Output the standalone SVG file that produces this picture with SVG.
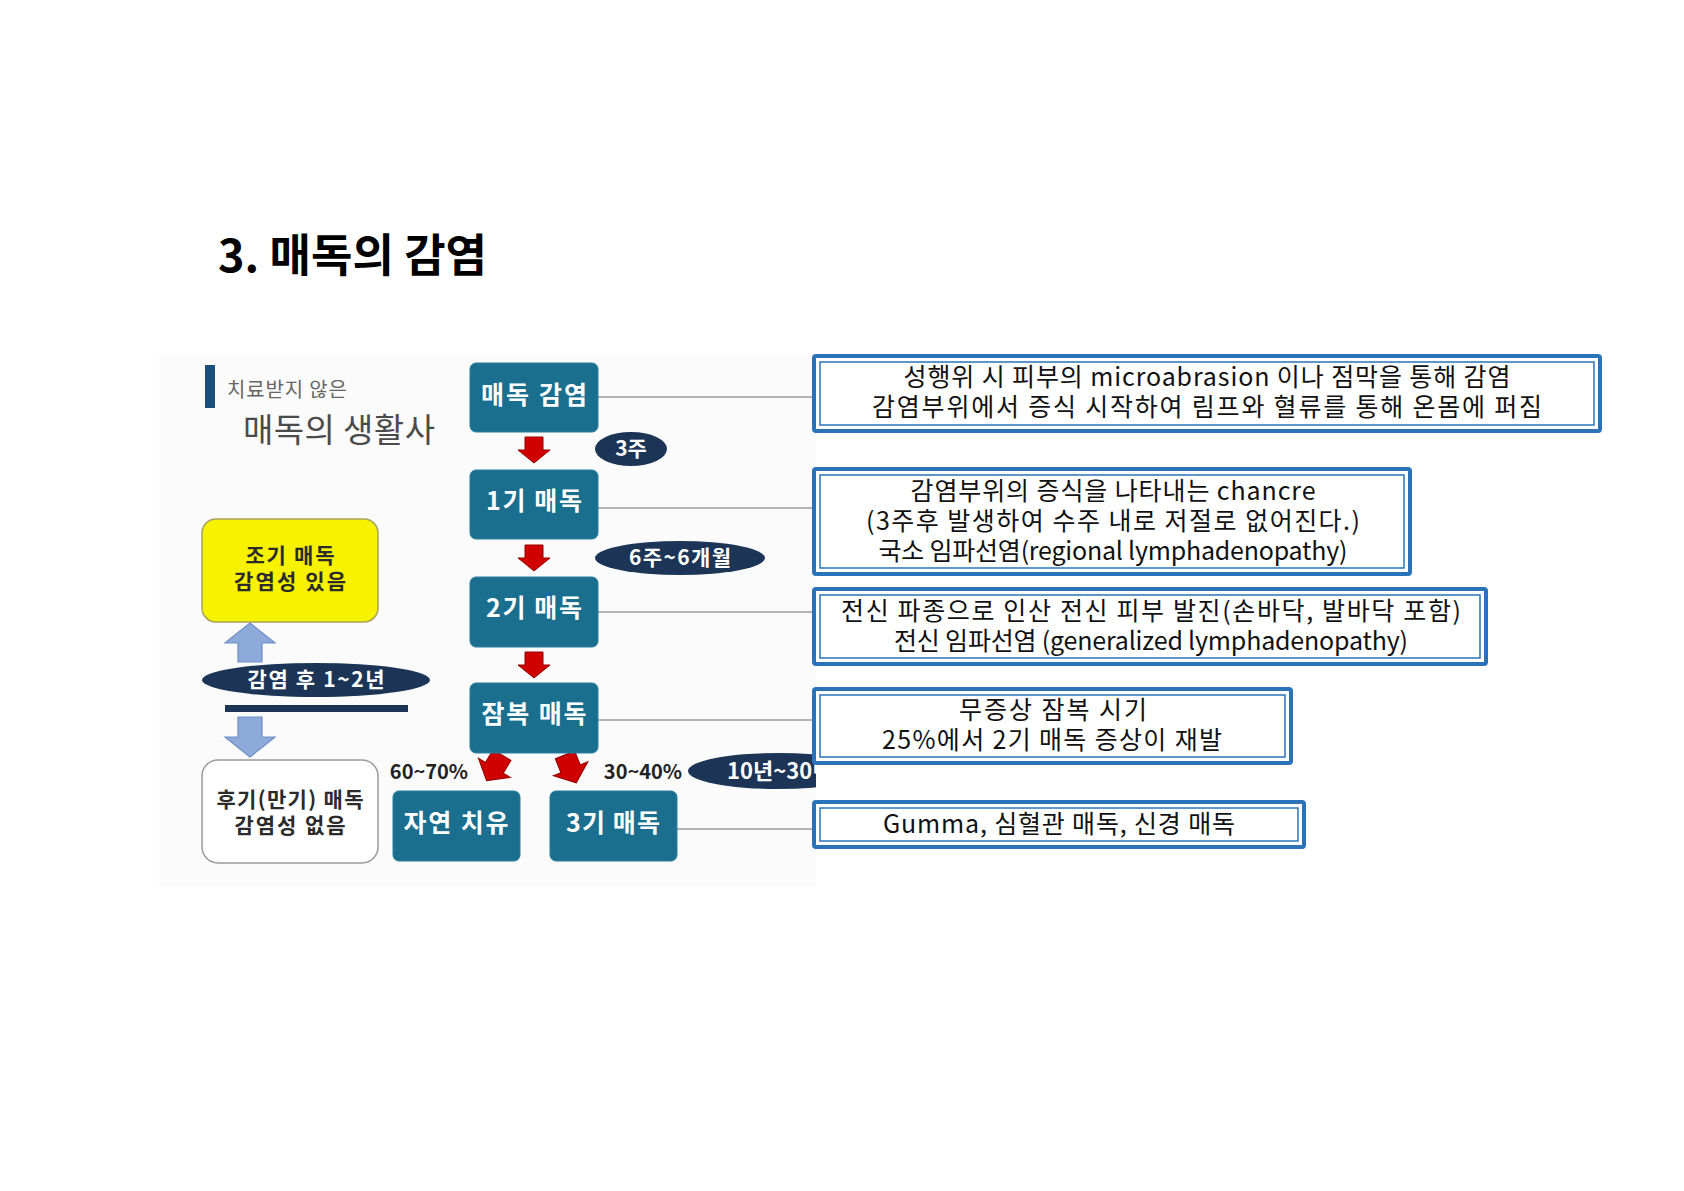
<svg xmlns="http://www.w3.org/2000/svg" width="1684" height="1191" viewBox="0 0 1684 1191">
<style>
text{font-family:"Noto Sans CJK KR","Noto Sans",sans-serif}
.title{font-size:45px;font-weight:700;fill:#000}
.teal{fill:#1a6e8e;stroke:#2a7f9f;stroke-width:1}
.tt{font-size:25px;font-weight:700;fill:#fff;text-anchor:middle}
.lbl{font-size:21px;font-weight:700;fill:#2b2b2b;text-anchor:middle}
.pill{fill:#1c3557}
.pt{font-size:21px;font-weight:700;fill:#fff;text-anchor:middle}
.pct{font-size:20px;font-weight:700;fill:#222;text-anchor:middle}
.desc{font-size:25px;fill:#111;text-anchor:middle}
.outer{fill:#fff;stroke:#2a73b9;stroke-width:4}
.inner{fill:none;stroke:#2a73b9;stroke-width:1.5}
.conn{stroke:#b3b3b3;stroke-width:2;fill:none}
.red{fill:#d00000;stroke:#9a0000;stroke-width:1}
.blue{fill:#8eaadb;stroke:#6d8fc5;stroke-width:1.2}
</style>
<defs>
<path id="rdown" d="M-9,0 h18 v13 h7 l-16,13 l-16,-13 h7 z"/>
<clipPath id="imgclip"><rect x="159" y="354" width="657" height="533"/></clipPath>
</defs>
<rect width="1684" height="1191" fill="#fff"/>
<text class="title" x="218" y="272" textLength="269" lengthAdjust="spacing">3. 매독의 감염</text>
<rect x="159" y="354" width="657" height="533" fill="#fbfbfb"/>

<g id="connectors">
<line class="conn" x1="598" y1="397" x2="814" y2="397"/>
<line class="conn" x1="598" y1="508" x2="814" y2="508"/>
<line class="conn" x1="598" y1="612" x2="814" y2="612"/>
<line class="conn" x1="598" y1="720" x2="814" y2="720"/>
<line class="conn" x1="677" y1="829" x2="814" y2="829"/>
<use href="#rdown" class="red" transform="translate(534,437)"/>
<use href="#rdown" class="red" transform="translate(534,545)"/>
<use href="#rdown" class="red" transform="translate(534,652)"/>
<use href="#rdown" class="red" transform="translate(502,755) rotate(31) scale(1.15)"/>
<use href="#rdown" class="red" transform="translate(565,755) rotate(-22) scale(1.15)"/>
<path class="blue" d="M250,623 L275,643 L262,643 L262,662 L238,662 L238,643 L225,643 Z"/>
<path class="blue" d="M238,717 L262,717 L262,737 L275,737 L250,757 L225,737 L238,737 Z"/>
<rect x="225" y="705" width="183" height="7" fill="#1c3557"/>
</g>

<g id="header">
<rect x="205" y="365" width="10" height="43" fill="#1b4f7c"/>
<text x="227" y="397" style="font-size:20px;fill:#666" textLength="120" lengthAdjust="spacing">치료받지 않은</text>
<text x="243" y="442" style="font-size:33px;fill:#4a4a4a" textLength="192" lengthAdjust="spacing">매독의 생활사</text>
</g>

<g id="early">
<rect x="202" y="519" width="176" height="103" rx="14" fill="#f7f200" stroke="#a9a35a" stroke-width="1.5"/>
<text class="lbl" x="290" y="563" textLength="89" lengthAdjust="spacing">조기 매독</text>
<text class="lbl" x="290" y="589" textLength="112" lengthAdjust="spacing">감염성 있음</text>
</g>
<g id="late">
<rect x="202" y="760" width="176" height="103" rx="16" fill="#fff" stroke="#9a9a9a" stroke-width="1.5"/>
<text class="lbl" x="290" y="807" textLength="147" lengthAdjust="spacing">후기(만기) 매독</text>
<text class="lbl" x="290" y="833" textLength="111" lengthAdjust="spacing">감염성 없음</text>
</g>
<g id="period12">
<ellipse class="pill" cx="316" cy="680" rx="114" ry="17"/>
<text class="pt" x="316" y="687" textLength="137" lengthAdjust="spacing">감염 후 1~2년</text>
</g>

<g id="n-infect"><rect class="teal" x="470" y="363" width="128" height="69" rx="6"/><text class="tt" x="534" y="404" textLength="106" lengthAdjust="spacing">매독 감염</text></g>
<g id="n-primary"><rect class="teal" x="470" y="470" width="128" height="69" rx="6"/><text class="tt" x="534" y="510" textLength="96" lengthAdjust="spacing">1기 매독</text></g>
<g id="n-secondary"><rect class="teal" x="470" y="577" width="128" height="70" rx="6"/><text class="tt" x="534" y="617" textLength="96" lengthAdjust="spacing">2기 매독</text></g>
<g id="n-latent"><rect class="teal" x="470" y="683" width="128" height="70" rx="6"/><text class="tt" x="534" y="723" textLength="105" lengthAdjust="spacing">잠복 매독</text></g>
<g id="n-heal"><rect class="teal" x="393" y="791" width="127" height="70" rx="6"/><text class="tt" x="456" y="832" textLength="105" lengthAdjust="spacing">자연 치유</text></g>
<g id="n-tertiary"><rect class="teal" x="550" y="791" width="127" height="70" rx="6"/><text class="tt" x="613" y="832" textLength="94" lengthAdjust="spacing">3기 매독</text></g>

<g id="t-3w"><ellipse class="pill" cx="631" cy="449" rx="36" ry="17"/><text class="pt" x="631" y="456">3주</text></g>
<g id="t-6w"><ellipse class="pill" cx="680" cy="558" rx="85" ry="17"/><text class="pt" x="680" y="565" textLength="102" lengthAdjust="spacing">6주~6개월</text></g>
<g id="t-10y" clip-path="url(#imgclip)"><ellipse class="pill" cx="778" cy="771" rx="90" ry="18"/><text class="pt" x="727" y="779" style="text-anchor:start;font-size:22px">10년~30년</text></g>
<text class="pct" x="429" y="779">60~70%</text>
<text class="pct" x="643" y="779">30~40%</text>

<g id="d-infect">
<rect class="outer" x="814" y="356" width="786" height="75" rx="2"/>
<rect class="inner" x="820" y="362" width="774" height="63"/>
<text class="desc" x="1207" y="386" textLength="607" lengthAdjust="spacing">성행위 시 피부의 microabrasion 이나 점막을 통해 감염</text>
<text class="desc" x="1207" y="416" textLength="670" lengthAdjust="spacing">감염부위에서 증식 시작하여 림프와 혈류를 통해 온몸에 퍼짐</text>
</g>
<g id="d-primary">
<rect class="outer" x="814" y="469" width="596" height="105" rx="2"/>
<rect class="inner" x="820" y="475" width="584" height="93"/>
<text class="desc" x="1113" y="500" textLength="405" lengthAdjust="spacing">감염부위의 증식을 나타내는 chancre</text>
<text class="desc" x="1113" y="530" textLength="494" lengthAdjust="spacing">(3주후 발생하여 수주 내로 저절로 없어진다.)</text>
<text class="desc" x="1113" y="560" textLength="469" lengthAdjust="spacing">국소 임파선염(regional lymphadenopathy)</text>
</g>
<g id="d-secondary">
<rect class="outer" x="814" y="589" width="672" height="75" rx="2"/>
<rect class="inner" x="820" y="595" width="660" height="63"/>
<text class="desc" x="1151" y="620" textLength="620" lengthAdjust="spacing">전신 파종으로 인산 전신 피부 발진(손바닥, 발바닥 포함)</text>
<text class="desc" x="1151" y="650" textLength="514" lengthAdjust="spacing">전신 임파선염 (generalized lymphadenopathy)</text>
</g>
<g id="d-latent">
<rect class="outer" x="814" y="689" width="477" height="74" rx="2"/>
<rect class="inner" x="820" y="695" width="465" height="62"/>
<text class="desc" x="1053" y="719" textLength="188" lengthAdjust="spacing">무증상 잠복 시기</text>
<text class="desc" x="1052" y="749" textLength="340" lengthAdjust="spacing">25%에서 2기 매독 증상이 재발</text>
</g>
<g id="d-tertiary">
<rect class="outer" x="814" y="802" width="490" height="45" rx="2"/>
<rect class="inner" x="820" y="808" width="478" height="33"/>
<text class="desc" x="1059" y="833" textLength="352" lengthAdjust="spacing">Gumma, 심혈관 매독, 신경 매독</text>
</g>
</svg>
